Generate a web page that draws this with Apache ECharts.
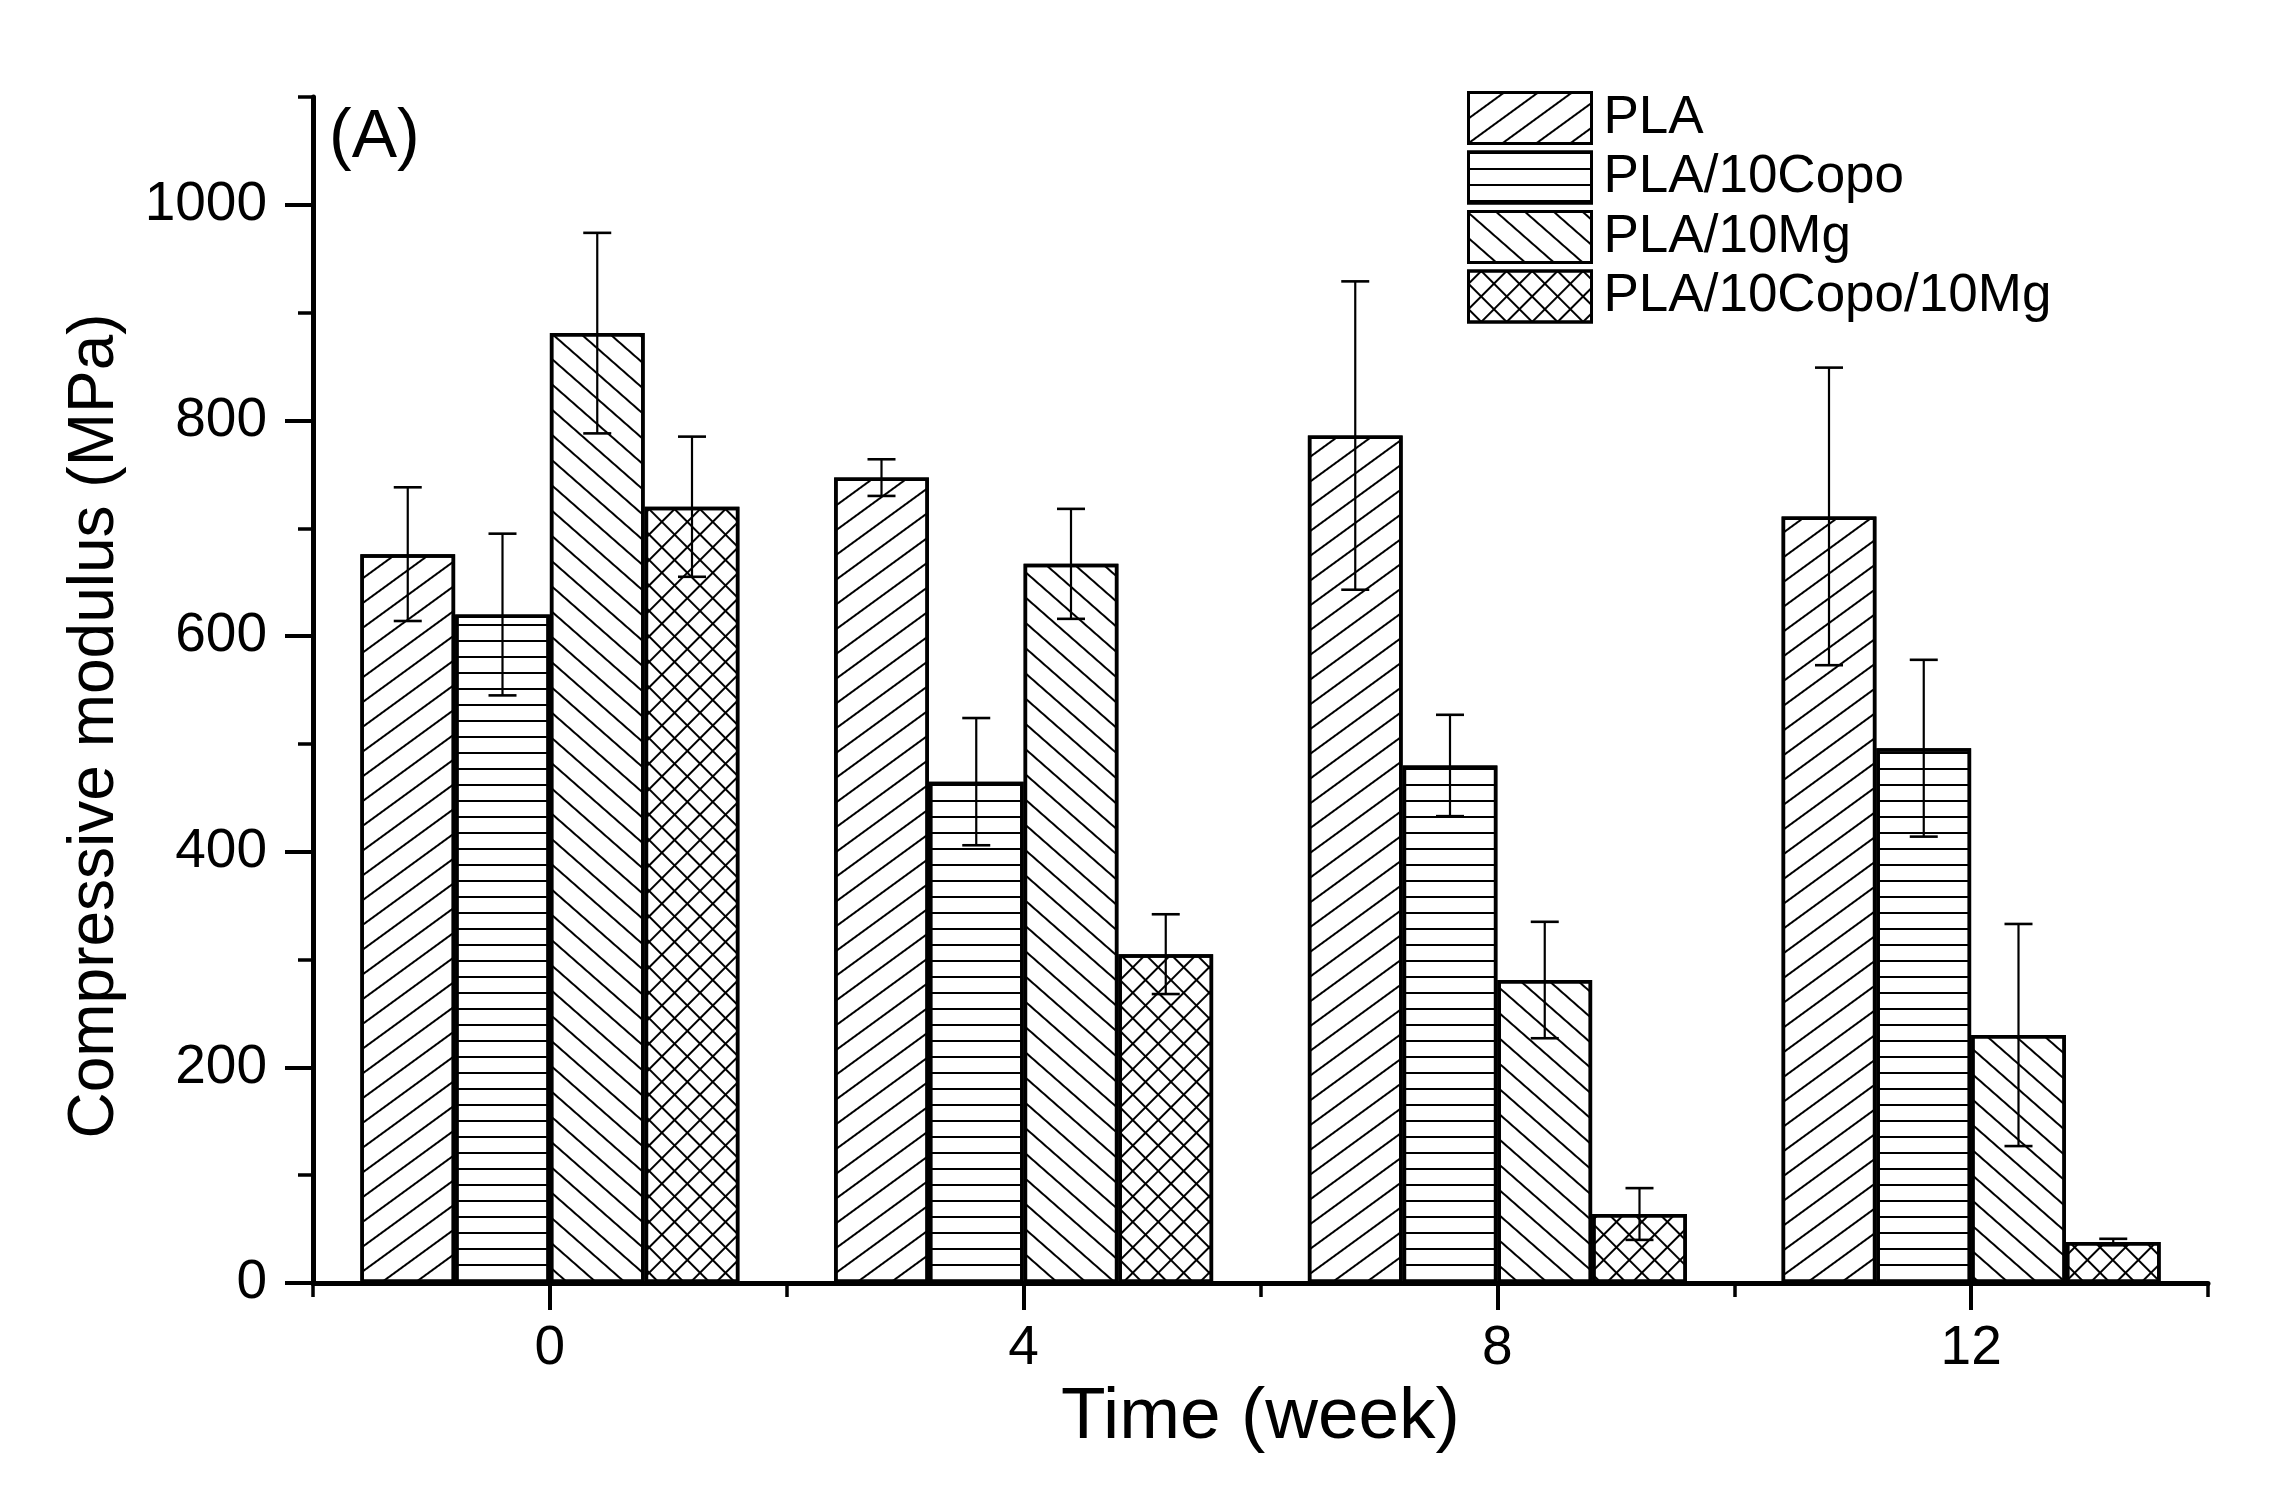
<!DOCTYPE html>
<html><head><meta charset="utf-8">
<script src="https://cdn.jsdelivr.net/npm/echarts@6/dist/echarts.min.js"></script>
<style>html,body{margin:0;padding:0;background:#fff}#c{width:2283px;height:1490px}</style>
</head><body><div id="c"></div>
<script>
const weeks = ['0', '4', '8', '12'];
const seriesNames = ['PLA', 'PLA/10Copo', 'PLA/10Mg', 'PLA/10Copo/10Mg'];
const PLA = [676, 747, 786, 711];
const PLA_err = [62, 17, 143, 138];
const Copo = [620, 465, 480, 496];
const Copo_err = [75, 59, 47, 82];
const Mg = [881, 667, 281, 230];
const Mg_err = [93, 51, 54, 103];
const CopoMg = [720, 305, 64, 38];
const CopoMg_err = [65, 37, 24, 3];
const yMajorTicks = [0, 200, 400, 600, 800, 1000];
const yMinorTicks = [100, 300, 500, 700, 900, 1100];

const FONT = '"Liberation Sans", Arial, sans-serif';
const means = [PLA, Copo, Mg, CopoMg];
const errs = [PLA_err, Copo_err, Mg_err, CopoMg_err];

const decals = [
  { symbol: 'rect', symbolSize: 1, dashArrayX: [1, 0], dashArrayY: [2, 18], rotation: -0.63, color: '#000' },
  { symbol: 'rect', symbolSize: 1, dashArrayX: [1, 0], dashArrayY: [2, 14], rotation: 0, color: '#000' },
  { symbol: 'rect', symbolSize: 1, dashArrayX: [1, 0], dashArrayY: [2, 17], rotation: 0.72, color: '#000' },
  { symbol: 'path://M0 8H18V10H0Z M8 0H10V18H8Z', symbolSize: 1, symbolKeepAspect: false, dashArrayX: [18, 0], dashArrayY: [18, 0], rotation: Math.PI / 4, color: '#000' }
];

function errRender(si) {
  return function (params, api) {
    const c = api.value(0);
    const lo = api.coord([c, api.value(1)]);
    const hi = api.coord([c, api.value(2)]);
    const catW = api.size([1, 0])[0];
    const barW = catW * 0.8 / 4;
    const x = lo[0] + (si - 1.5) * barW;
    const half = 14;
    const st = { stroke: '#000', lineWidth: 2.2 };
    return {
      type: 'group', children: [
        { type: 'line', shape: { x1: x, y1: hi[1], x2: x, y2: lo[1] }, style: st },
        { type: 'line', shape: { x1: x - half, y1: hi[1], x2: x + half, y2: hi[1] }, style: { stroke: '#000', lineWidth: 2.6 } },
        { type: 'line', shape: { x1: x - half, y1: lo[1], x2: x + half, y2: lo[1] }, style: { stroke: '#000', lineWidth: 2.6 } }
      ]
    };
  };
}

const series = [];
for (let i = 0; i < 4; i++) {
  series.push({
    name: seriesNames[i], type: 'bar', xAxisIndex: 0, yAxisIndex: 0,
    data: means[i], barGap: '0%', barCategoryGap: '20%',
    itemStyle: { color: '#fff', borderColor: '#000', borderWidth: 3.5, decal: decals[i] },
    emphasis: { disabled: true }, z: 2
  });
}
for (let i = 0; i < 4; i++) {
  series.push({
    name: 'err' + i, type: 'custom', xAxisIndex: 0, yAxisIndex: 0,
    renderItem: errRender(i),
    encode: { x: 0, y: [1, 2] },
    data: means[i].map((m, k) => [k, m - errs[i][k], m + errs[i][k]]),
    z: 5, silent: true
  });
}

const chart = echarts.init(document.getElementById('c'));
chart.setOption({
  animation: false,
  backgroundColor: '#fff',
  textStyle: { fontFamily: FONT, color: '#000' },
  title: { text: '(A)', left: 329, top: 104, padding: 0, textStyle: { fontFamily: FONT, fontSize: 68, fontWeight: 'normal', color: '#000' } },
  grid: { left: 313, right: 75, top: 97, bottom: 207, outerBoundsMode: 'none' },
  legend: {
    orient: 'vertical', left: 1462, top: 86, itemWidth: 123, itemHeight: 51, itemGap: 5.5,
    icon: 'rect', data: seriesNames, selectedMode: false,
    itemStyle: { borderWidth: 3, borderColor: '#000' },
    textStyle: { fontFamily: FONT, fontSize: 53, lineHeight: 51, color: '#000', padding: [0, 0, 0, 7] }
  },
  xAxis: [{
    type: 'category', data: weeks, position: 'bottom',
    axisLine: { show: true, lineStyle: { color: '#000', width: 5 } },
    axisTick: { show: true, alignWithLabel: true, length: 27, lineStyle: { color: '#000', width: 4 } },
    axisLabel: { fontFamily: FONT, fontSize: 55, color: '#000', margin: 38 },
    splitLine: { show: false },
    name: 'Time (week)', nameLocation: 'middle', nameGap: 98,
    nameTextStyle: { fontFamily: FONT, fontSize: 73, color: '#000' }
  }, {
    type: 'category', data: weeks, position: 'bottom', offset: 0,
    axisLine: { show: false },
    axisTick: { show: true, alignWithLabel: false, length: 14, lineStyle: { color: '#000', width: 3.5 } },
    axisLabel: { show: false }, splitLine: { show: false }
  }],
  yAxis: [{
    type: 'value', min: 0, max: 1100, position: 'left',
    axisLine: { show: true, lineStyle: { color: '#000', width: 5 } },
    axisTick: { show: true, length: 28, customValues: yMajorTicks, lineStyle: { color: '#000', width: 4 } },
    axisLabel: { customValues: yMajorTicks, formatter: function (v) { return String(v); }, fontFamily: FONT, fontSize: 55, color: '#000', margin: 46 },
    splitLine: { show: false },
    name: 'Compressive modulus (MPa)', nameLocation: 'middle', nameGap: 186,
    nameTextStyle: { fontFamily: FONT, fontSize: 64, color: '#000', padding: [0, 72, 0, 0] }
  }, {
    type: 'value', min: 0, max: 1100, position: 'left', offset: 0,
    axisLine: { show: false },
    axisTick: { show: true, length: 15, customValues: yMinorTicks, lineStyle: { color: '#000', width: 3.5 } },
    axisLabel: { show: false }, splitLine: { show: false }
  }],
  series: series
});
</script></body></html>
